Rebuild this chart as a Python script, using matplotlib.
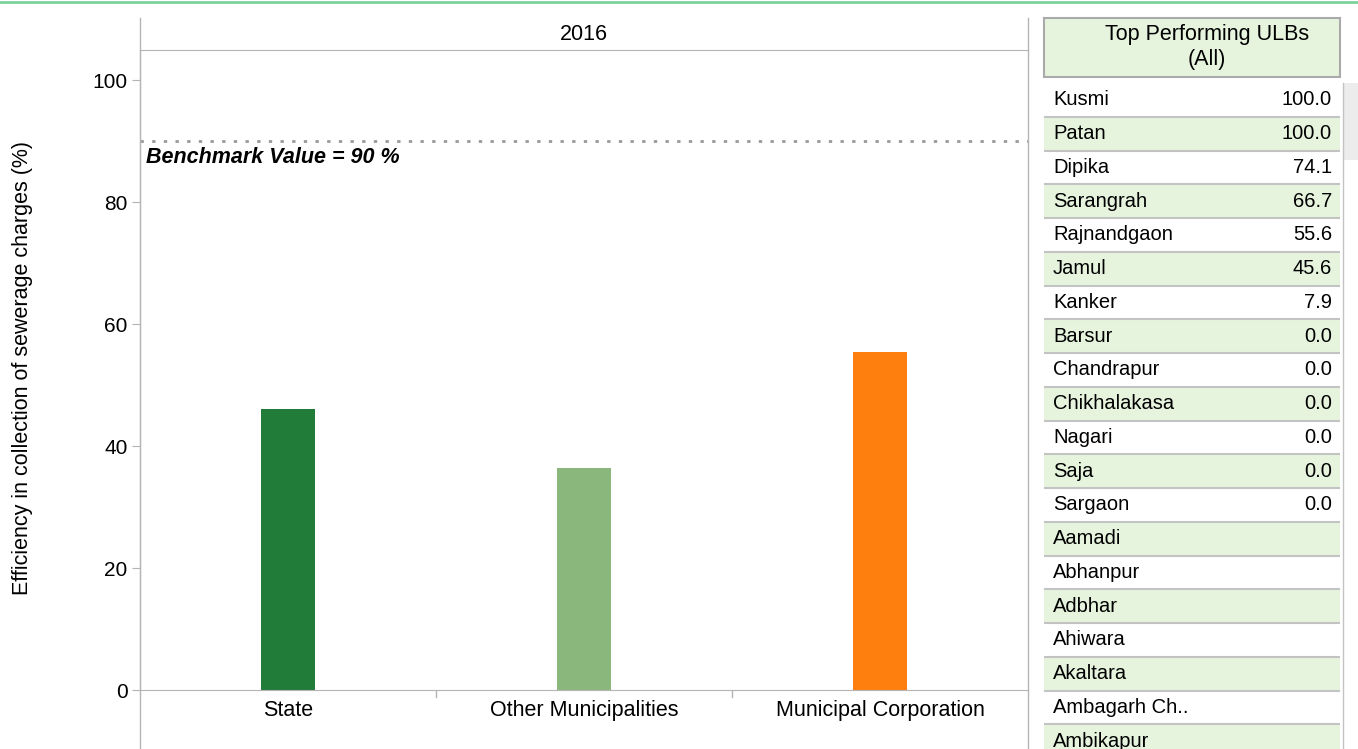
import matplotlib
matplotlib.use("Agg")
from matplotlib import pyplot as plt
from matplotlib.patches import Rectangle
from matplotlib.lines import Line2D

plt.rcParams['font.family'] = ['Liberation Sans', 'DejaVu Sans']

# chart data
categories = ["State", "Other Municipalities", "Municipal Corporation"]
efficiency = [46.1, 36.4, 55.4]
bar_colors = ["#217b39", "#8ab77c", "#ff7f0e"]
benchmark = 90
year = "2016"

# table data
ulb_names = ["Kusmi", "Patan", "Dipika", "Sarangrah", "Rajnandgaon", "Jamul", "Kanker",
             "Barsur", "Chandrapur", "Chikhalakasa", "Nagari", "Saja", "Sargaon",
             "Aamadi", "Abhanpur", "Adbhar", "Ahiwara", "Akaltara", "Ambagarh Ch..", "Ambikapur"]
ulb_values = [100.0, 100.0, 74.1, 66.7, 55.6, 45.6, 7.9, 0.0, 0.0, 0.0, 0.0, 0.0, 0.0,
              None, None, None, None, None, None, None]

W, H = 1358, 749
fig = plt.figure(figsize=(W / 100, H / 100), dpi=100)

def box(x0, y0, x1, y1):
    # pixel box (top-left origin) -> figure fraction rect
    return [x0 / W, 1 - y1 / H, (x1 - x0) / W, (y1 - y0) / H]

grey = "#b4b4b4"
fs = 15.5

# main bar chart
ax = fig.add_axes(box(140, 50, 1028, 690))
x = list(range(len(categories)))
ax.bar(x, efficiency, width=0.18, color=bar_colors)
ax.set_xlim(-0.5, len(categories) - 0.5)
ax.set_ylim(0, 640 / 6.1)
ax.set_yticks([0, 20, 40, 60, 80, 100])
ax.tick_params(axis='y', labelsize=15, length=6, color=grey, pad=3)
ax.set_xticks([])
for s in ["right"]:
    ax.spines[s].set_visible(False)
ax.spines["top"].set_color(grey)
ax.spines["left"].set_color(grey)
ax.spines["bottom"].set_color(grey)
ax.axhline(benchmark, color="#999999", linestyle=(0, (1.2, 3)), linewidth=2)
ax.text(-0.48, benchmark - 1.0, "Benchmark Value = %d %%" % benchmark, fontsize=fs,
        fontweight="bold", fontstyle="italic", va="top", ha="left")
fig.text(23 / W, 1 - 368 / H, "Efficiency in collection of sewerage charges (%)",
         rotation=90, ha="center", va="center", fontsize=fs)

# category labels below the axis
lab = fig.add_axes(box(140, 690, 1028, 749))
lab.set_xlim(-0.5, len(categories) - 0.5)
lab.set_ylim(0, 1)
lab.axis("off")
for i, c in enumerate(categories):
    lab.text(i, 0.66, c, ha="center", va="center", fontsize=fs)
for i in range(len(categories) - 1):
    lab.plot([i + 0.5, i + 0.5], [1, 0.88], color=grey, lw=1)

# header band with year
hd = fig.add_axes(box(140, 18, 1028, 50))
hd.set_xlim(0, 1)
hd.set_ylim(0, 1)
hd.axis("off")
hd.text(0.5, 0.5, year, ha="center", va="center", fontsize=fs)

# frame lines
fig.add_artist(Line2D([140 / W, 140 / W], [0, 1 - 18 / H], color=grey, lw=1))
fig.add_artist(Line2D([1028 / W, 1028 / W], [0, 1 - 18 / H], color=grey, lw=1))
fig.add_artist(Line2D([0, 1], [1 - 2 / H, 1 - 2 / H], color="#7fd29a", lw=2))

# table header
fig.add_artist(Rectangle((1044 / W, 1 - 77 / H), 296 / W, 59 / H, transform=fig.transFigure,
                         facecolor="#e6f4de", edgecolor="#aaaaaa", lw=1.5))
fig.text(1207 / W, 1 - 47 / H, "Top Performing ULBs\n(All)", ha="center", va="center",
         fontsize=fs, linespacing=1.2)

# table rows
row_h = 33.75
tb = fig.add_axes(box(1044, 83, 1340, 749))
tb.set_xlim(0, 296)
tb.set_ylim(666, 0)
tb.axis("off")
for i, (n, v) in enumerate(zip(ulb_names, ulb_values)):
    top = i * row_h
    fc = "#e6f4de" if i % 2 == 1 else "white"
    tb.add_patch(Rectangle((0, top), 296, row_h, facecolor=fc, edgecolor="none"))
    tb.plot([0, 296], [top + row_h, top + row_h], color="#c3c3c3", lw=1.5)
    tb.text(9, top + row_h / 2, n, va="center", ha="left", fontsize=14.5)
    if v is not None:
        tb.text(288, top + row_h / 2, "%.1f" % v, va="center", ha="right", fontsize=14.5)

# scrollbar
fig.add_artist(Rectangle((1343 / W, 1 - 160 / H), 15 / W, 77 / H, transform=fig.transFigure,
                         facecolor="#ececec", edgecolor="none"))
fig.add_artist(Line2D([1343 / W, 1343 / W], [0, 1 - 83 / H], color="#c3c3c3", lw=1))

fig.savefig("out.png", dpi=100)
